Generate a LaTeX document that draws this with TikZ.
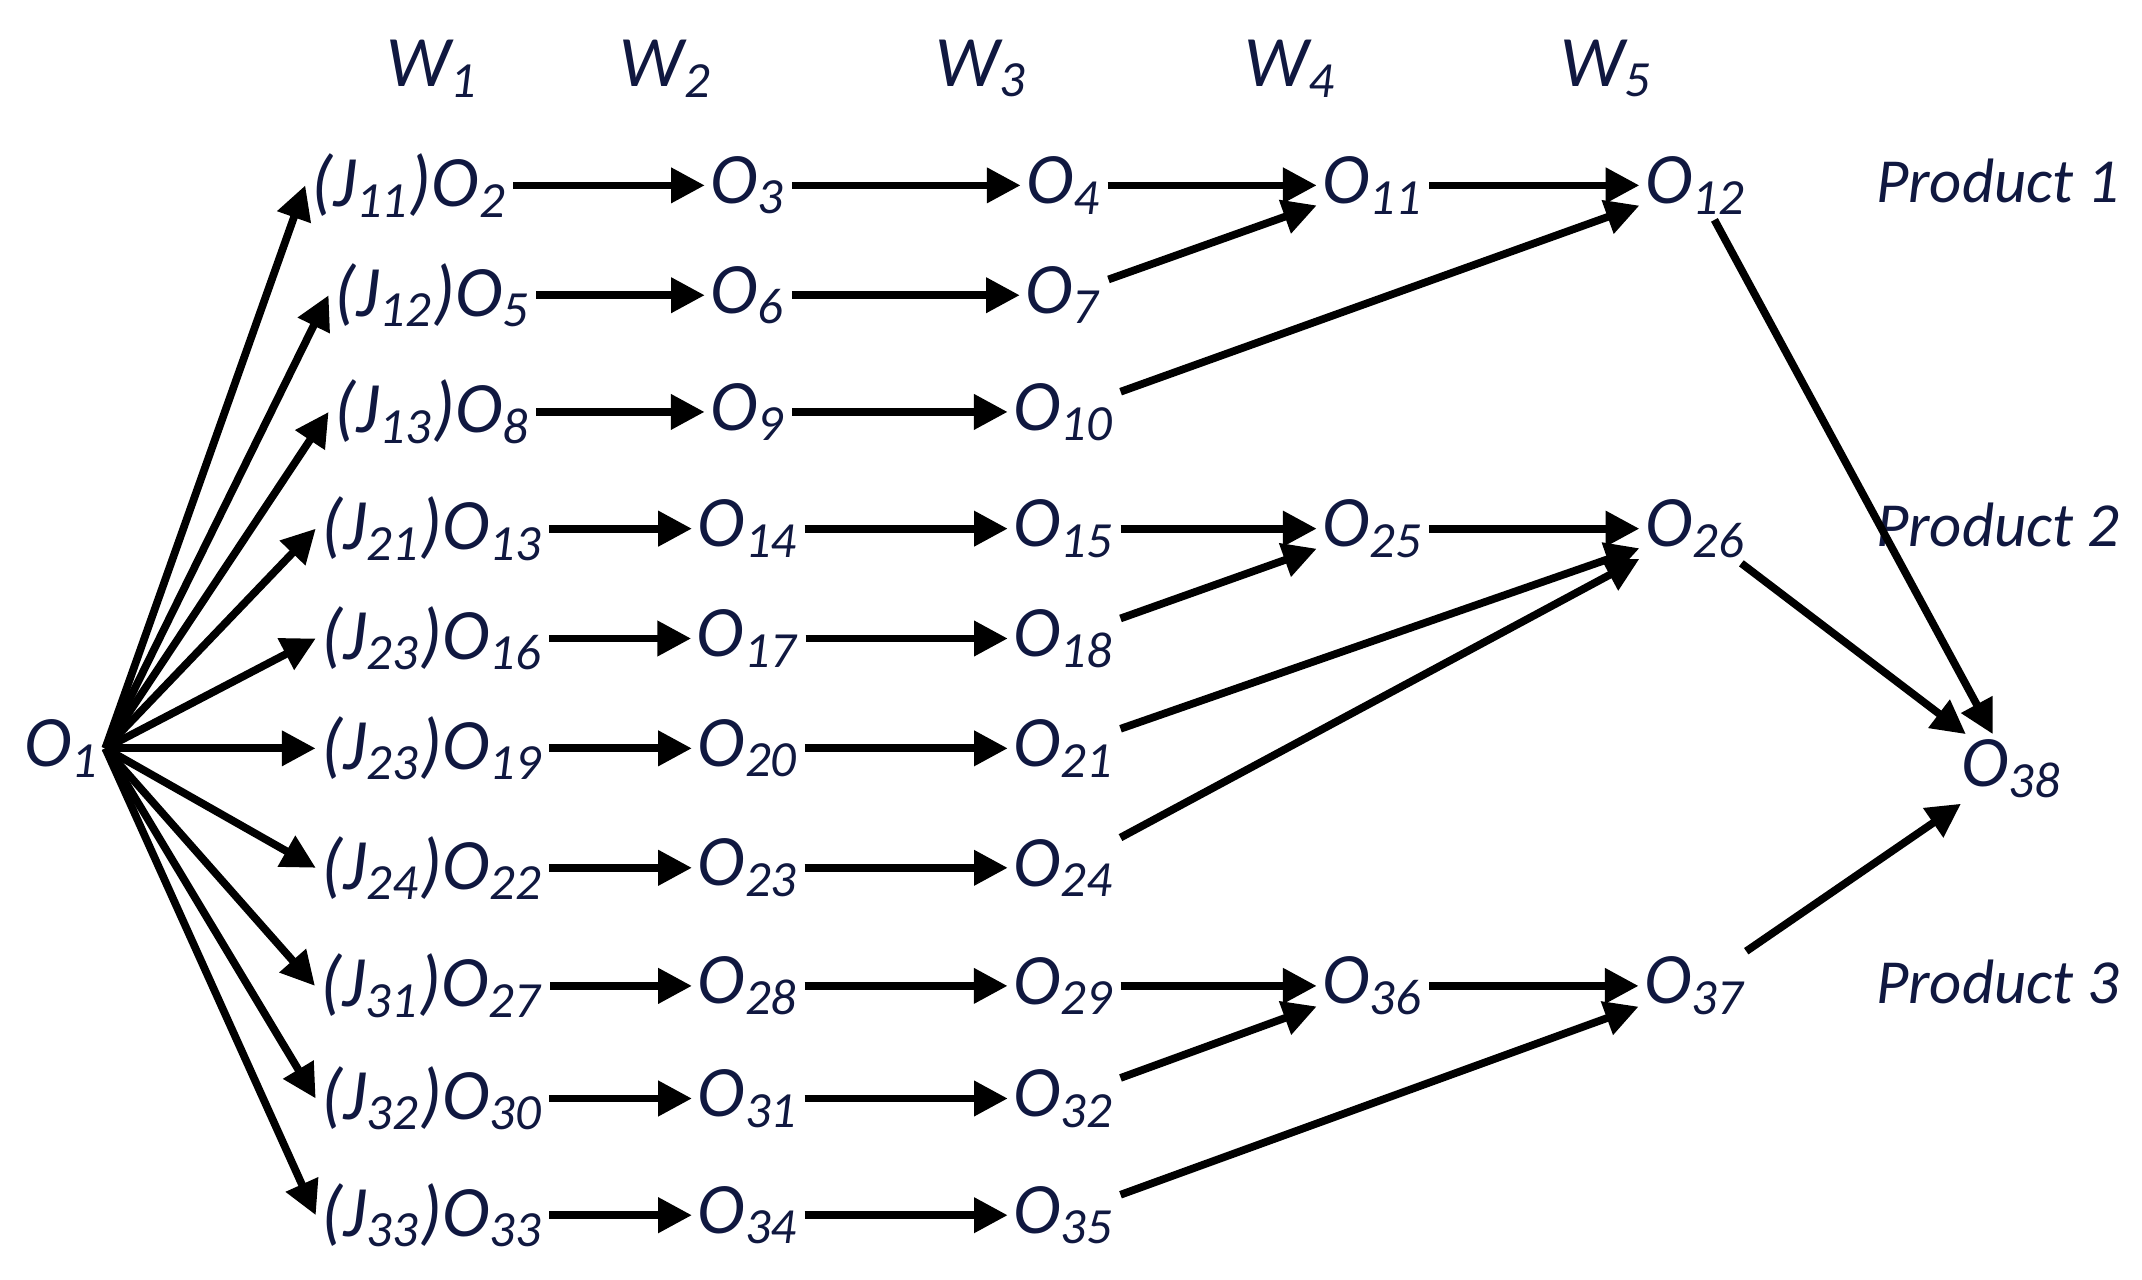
\documentclass[tikz,border=0pt]{standalone}
\usepackage{fontspec}
\setmainfont{Carlito}
\usetikzlibrary{arrows.meta, positioning}
\definecolor{opnavy}{HTML}{101840}
\newcommand{\op}[1]{\textit{O}\textsubscript{\textit{#1}}}
\newcommand{\jop}[2]{\textit{(J}\textsubscript{\textit{#1}}\textit{)O}\textsubscript{\textit{#2}}}
\begin{document}
\begin{tikzpicture}[
  opn/.style={inner sep=1pt, text=opnavy, font=\fontsize{15}{17}\selectfont},
  lbl/.style={inner sep=1pt, text=opnavy, font=\fontsize{13}{15}\selectfont\itshape},
  arrow/.style={-{Triangle[length=7pt,width=7pt]}, line width=1.6pt, black}
]
  \useasboundingbox (0,0) rectangle (15.6,-9.32);

  % Stations
  \node[lbl] (w1) at (3.15,-0.5) {\fontsize{15}{17}\selectfont W\textsubscript{1}};
  \node[lbl] (w2) at (4.85,-0.5) {\fontsize{15}{17}\selectfont W\textsubscript{2}};
  \node[lbl] (w3) at (7.15,-0.5) {\fontsize{15}{17}\selectfont W\textsubscript{3}};
  \node[lbl] (w4) at (9.4,-0.5) {\fontsize{15}{17}\selectfont W\textsubscript{4}};
  \node[lbl] (w5) at (11.7,-0.5) {\fontsize{15}{17}\selectfont W\textsubscript{5}};

  % Products
  \node[lbl] (p1) at (14.55,-1.32) {Product 1};
  \node[lbl] (p2) at (14.55,-3.82) {Product 2};
  \node[lbl] (p3) at (14.55,-7.15) {Product 3};

  % Source and sink
  \node[opn] (o1) at (0.45,-5.45) {\op{1}};
  \node[opn] (o38) at (14.65,-5.6) {\op{38}};

  % Column W1
  \node[opn] (o2) at (2.98,-1.35) {\jop{11}{2}};
  \node[opn] (o5) at (3.15,-2.15) {\jop{12}{5}};
  \node[opn] (o8) at (3.15,-3.0) {\jop{13}{8}};
  \node[opn] (o13) at (3.15,-3.85) {\jop{21}{13}};
  \node[opn] (o16) at (3.15,-4.65) {\jop{23}{16}};
  \node[opn] (o19) at (3.15,-5.45) {\jop{23}{19}};
  \node[opn] (o22) at (3.15,-6.32) {\jop{24}{22}};
  \node[opn] (o27) at (3.15,-7.18) {\jop{31}{27}};
  \node[opn] (o30) at (3.15,-8.0) {\jop{32}{30}};
  \node[opn] (o33) at (3.15,-8.85) {\jop{33}{33}};

  % Column W2
  \node[opn] (o3) at (5.45,-1.35) {\op{3}};
  \node[opn] (o6) at (5.45,-2.15) {\op{6}};
  \node[opn] (o9) at (5.45,-3.0) {\op{9}};
  \node[opn] (o14) at (5.45,-3.85) {\op{14}};
  \node[opn] (o17) at (5.45,-4.65) {\op{17}};
  \node[opn] (o20) at (5.45,-5.45) {\op{20}};
  \node[opn] (o23) at (5.45,-6.32) {\op{23}};
  \node[opn] (o28) at (5.45,-7.18) {\op{28}};
  \node[opn] (o31) at (5.45,-8.0) {\op{31}};
  \node[opn] (o34) at (5.45,-8.85) {\op{34}};

  % Column W3
  \node[opn] (o4) at (7.75,-1.35) {\op{4}};
  \node[opn] (o7) at (7.75,-2.15) {\op{7}};
  \node[opn] (o10) at (7.75,-3.0) {\op{10}};
  \node[opn] (o15) at (7.75,-3.85) {\op{15}};
  \node[opn] (o18) at (7.75,-4.65) {\op{18}};
  \node[opn] (o21) at (7.75,-5.45) {\op{21}};
  \node[opn] (o24) at (7.75,-6.32) {\op{24}};
  \node[opn] (o29) at (7.75,-7.18) {\op{29}};
  \node[opn] (o32) at (7.75,-8.0) {\op{32}};
  \node[opn] (o35) at (7.75,-8.85) {\op{35}};

  % Column W4 and W5
  \node[opn] (o11) at (10.0,-1.35) {\op{11}};
  \node[opn] (o25) at (10.0,-3.85) {\op{25}};
  \node[opn] (o36) at (10.0,-7.18) {\op{36}};
  \node[opn] (o12) at (12.35,-1.35) {\op{12}};
  \node[opn] (o26) at (12.35,-3.85) {\op{26}};
  \node[opn] (o37) at (12.35,-7.18) {\op{37}};

  % Flow
  \foreach \a/\b/\c in {2/3/4, 5/6/7, 8/9/10, 13/14/15, 16/17/18, 19/20/21, 22/23/24, 27/28/29, 30/31/32, 33/34/35} {
    \draw[arrow] (o1.east) -- (o\a.west);
    \draw[arrow] (o\a) -- (o\b);
    \draw[arrow] (o\b) -- (o\c);
  }
  \foreach \a/\b in {4/11, 7/11, 11/12, 10/12, 15/25, 18/25, 25/26, 21/26, 24/26, 29/36, 32/36, 36/37, 35/37, 12/38, 26/38, 37/38}
    \draw[arrow] (o\a) -- (o\b);
\end{tikzpicture}
\end{document}
